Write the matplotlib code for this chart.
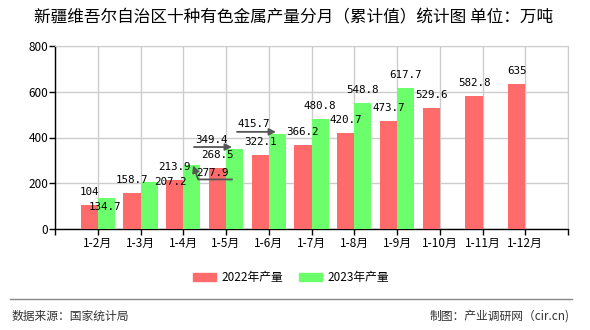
import matplotlib
matplotlib.use('Agg')
import numpy as np
import matplotlib.pyplot as plt
from matplotlib.patches import Patch
from matplotlib.lines import Line2D

plt.rcParams['font.family'] = ['Noto Sans CJK SC', 'DejaVu Sans']

# 数据
months = ['1-2月', '1-3月', '1-4月', '1-5月', '1-6月', '1-7月', '1-8月',
          '1-9月', '1-10月', '1-11月', '1-12月']
prod_2022 = [104, 158.7, 213.9, 268.5, 322.1, 366.2, 420.7, 473.7, 529.6, 582.8, 635]
prod_2023 = [134.7, 207.2, 277.9, 349.4, 415.7, 480.8, 548.8, 617.7]
yticks = [0, 200, 400, 600, 800]

red = '#FF6B6B'
green = '#6BFF6B'

fig = plt.figure(figsize=(5.9, 3.3), dpi=100)
ax = fig.add_axes([55/590, 1-229/330, 513/590, 183/330])

pos = np.arange(1, len(months) + 1)
ax.bar(pos - 0.4, prod_2022, width=0.4, align='edge', color=red, zorder=3)
ax.bar(pos[:len(prod_2023)], prod_2023, width=0.4, align='edge', color=green, zorder=3)

ax.set_xlim(0, 12)
ax.set_ylim(0, 800)
ax.set_xticks(np.arange(0, 13))
ax.set_xticklabels([''] + months + [''], fontsize=8.5)
ax.set_yticks(yticks)
ax.set_yticklabels([str(v) for v in yticks], fontsize=8.5)
ax.tick_params(axis='x', length=4, width=1, pad=2)
ax.tick_params(axis='y', length=4, width=1, pad=1)
ax.grid(True, color='#cccccc', lw=1, zorder=0)
for s in ['top', 'right']:
    ax.spines[s].set_color('#cccccc')
for s in ['left', 'bottom']:
    ax.spines[s].set_color('black')
    ax.spines[s].set_linewidth(1)

lab_font = dict(fontsize=7.8, family='DejaVu Sans Mono', ha='center', va='center', zorder=5)

# 2022 标签
for p, v in zip(pos, prod_2022):
    ax.annotate(f'{v:g}', xy=(p - 0.2, v), xytext=(0, 13), textcoords='offset pixels', **lab_font)

# 2023 标签（前几个有错位，同原图）
offs_2023 = [(-1, -9), (21, 0), (21, -8), (-23, 9), (-24, 10), (0, 13), (0, 13), (0, 13)]
for p, v, (dx, dy) in zip(pos, prod_2023, offs_2023):
    ax.annotate(f'{v:g}', xy=(p + 0.2, v), xytext=(dx, dy), textcoords='offset pixels', **lab_font)

arrow = dict(arrowstyle='-|>', color='#555555', lw=1.3, mutation_scale=10, shrinkA=0, shrinkB=0)
# 349.4 / 415.7 引导线
ax.annotate('', xy=(pos[3] + 0.14, prod_2023[3] + 9), xytext=(-38, 0),
            textcoords='offset pixels', arrowprops=arrow, zorder=6)
ax.annotate('', xy=(pos[4] + 0.17, prod_2023[4] + 9), xytext=(-39, 0),
            textcoords='offset pixels', arrowprops=arrow, zorder=6)
# 277.9 折线引导线
ax.annotate('', xy=(pos[2] + 0.23, prod_2023[2]), xytext=(39, -14),
            textcoords='offset pixels',
            arrowprops=dict(arrow, connectionstyle='angle,angleA=0,angleB=-70,rad=0'), zorder=6)

# 标题
fig.text(294/590, 1-17.5/330, '新疆维吾尔自治区十种有色金属产量分月（累计值）统计图 单位：万吨',
         fontsize=12, ha='center', va='center')

# 图例
handles = [Patch(color=red, label='2022年产量'), Patch(color=green, label='2023年产量')]
fig.legend(handles=handles, loc='center', bbox_to_anchor=(291/590, 1-277.5/330), ncol=2,
           frameon=False, fontsize=8.5, handlelength=1.9, handleheight=0.75,
           handletextpad=0.45, columnspacing=1.4)

# 底部
fig.add_artist(Line2D([10/590, 572/590], [1-298.5/330]*2, color='#888888', lw=1))
fig.text(12/590, 1-316/330, '数据来源：国家统计局', fontsize=8.5, color='#333333', ha='left', va='center')
fig.text(570/590, 1-316/330, '制图：产业调研网（cir.cn)', fontsize=8.5, color='#333333', ha='right', va='center')

plt.savefig('out.png', dpi=100)
